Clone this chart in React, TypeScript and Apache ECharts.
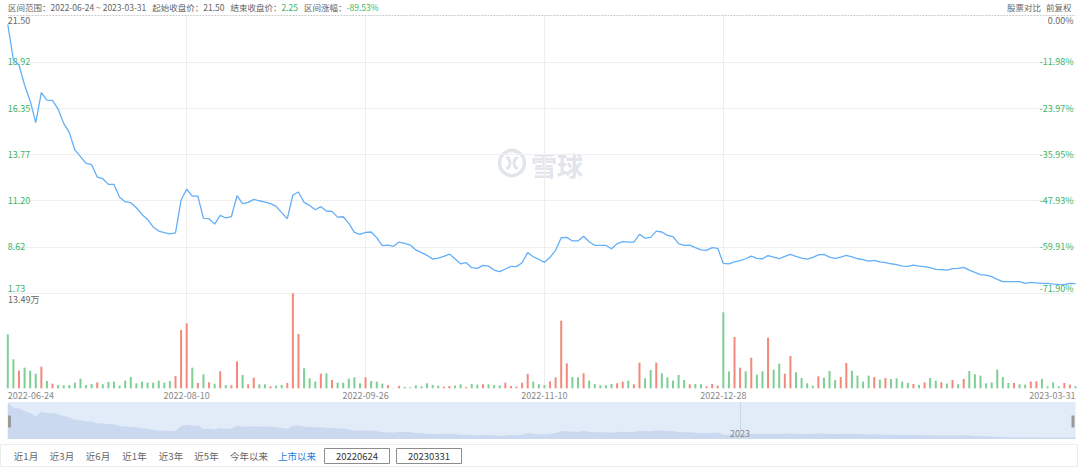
import React, { useEffect, useRef } from "react";
import * as echarts from "echarts";

// ---------- data ----------
const closePrices = [
  21.01, 19.02, 18.74, 17.63, 16.74, 15.53, 17.2, 16.79, 16.77, 16.29,
  15.49, 14.99, 14.01, 13.64, 13.26, 13.19, 12.5, 12.41, 12.09, 12.09,
  11.37, 11.13, 11.07, 10.79, 10.42, 10.14, 9.72, 9.49, 9.4, 9.33,
  9.39, 11.22, 11.82, 11.44, 11.44, 10.2, 10.18, 9.88, 10.37, 10.22,
  10.29, 11.46, 11.02, 11.09, 11.26, 11.18, 11.11, 11.02, 10.87, 10.52,
  10.18, 11.5, 11.67, 11.09, 10.92, 10.68, 10.85, 10.61, 10.59, 10.27,
  10.29, 9.92, 9.42, 9.31, 9.42, 9.44, 9.12, 8.68, 8.71, 8.64,
  8.88, 8.81, 8.71, 8.44, 8.29, 8.14, 7.93, 7.99, 8.08, 8.21,
  7.95, 7.67, 7.73, 7.45, 7.41, 7.58, 7.54, 7.32, 7.23, 7.38,
  7.53, 7.51, 7.73, 8.29, 8.06, 7.91, 7.75, 8.03, 8.42, 9.12,
  9.14, 8.94, 8.94, 9.2, 8.9, 8.7, 8.7, 8.7, 8.51, 8.79,
  8.9, 8.88, 8.88, 9.31, 9.1, 9.14, 9.49, 9.44, 9.25, 9.18,
  8.79, 8.7, 8.71, 8.57, 8.44, 8.42, 8.57, 8.53, 7.69, 7.66,
  7.77, 7.84, 7.95, 8.1, 7.97, 7.95, 8.12, 8.04, 7.95, 8.08,
  8.19, 8.08, 7.99, 7.93, 8.03, 8.17, 8.19, 8.04, 7.97, 8.04,
  8.14, 8.06, 7.95, 7.9, 7.82, 7.86, 7.77, 7.73, 7.67, 7.62,
  7.54, 7.53, 7.6, 7.54, 7.51, 7.45, 7.36, 7.34, 7.32, 7.4,
  7.41, 7.47, 7.32, 7.19, 7.06, 7.04, 6.95, 6.8, 6.67, 6.67,
  6.67, 6.67, 6.58, 6.63, 6.6, 6.58, 6.58, 6.54, 6.52, 6.51,
  6.58, 6.56,
];

// volume in 万
const volumes = [
  7.67, 4.12, 2.51, 2.93, 2.51, 2.08, 3.08, 1.04, 0.66, 0.47,
  0.43, 0.47, 0.8, 1.37, 0.47, 0.62, 0.85, 0.57, 0.9, 0.95,
  0.38, 1.09, 1.61, 0.71, 0.95, 0.8, 0.8, 1.09, 0.8, 1.04,
  1.75, 8.28, 9.23, 2.93, 0.76, 1.99, 0.85, 0.66, 2.41, 0.47,
  0.43, 3.83, 1.89, 0.57, 1.51, 0.57, 0.57, 0.28, 0.38, 0.47,
  0.76, 13.49, 7.71, 2.84, 1.42, 0.95, 2.08, 2.13, 1.18, 0.8,
  0.8, 1.37, 1.56, 0.71, 1.56, 1.04, 0.95, 0.66, 0.47, 0.05,
  0.33, 0.19, 0.14, 0.43, 0.28, 0.71, 0.47, 0.38, 0.24, 0.33,
  0.38, 0.57, 0.19, 0.62, 0.52, 0.57, 0.57, 0.47, 0.43, 0.8,
  0.33, 0.24, 0.8, 2.04, 0.95, 0.57, 0.47, 0.99, 1.56, 9.61,
  3.55, 1.61, 1.56, 2.13, 1.09, 0.62, 0.43, 0.43, 0.62, 0.71,
  0.95, 1.09, 0.57, 3.64, 1.42, 2.6, 3.64, 2.13, 1.56, 1.09,
  1.89, 1.18, 0.57, 0.62, 0.57, 0.28, 0.62, 0.38, 10.79, 2.41,
  7.29, 2.93, 2.41, 4.35, 1.94, 2.41, 7.19, 2.65, 3.5, 2.08,
  4.59, 2.27, 1.47, 0.71, 0.38, 1.7, 1.51, 2.46, 1.18, 1.61,
  3.6, 2.51, 1.8, 0.95, 1.8, 1.61, 1.23, 1.47, 1.33, 1.42,
  0.95, 0.76, 0.62, 0.47, 0.85, 1.47, 1.09, 0.85, 0.66, 1.18,
  0.57, 1.33, 2.46, 1.99, 1.8, 0.71, 0.85, 2.65, 1.61, 0.76,
  0.76, 0.57, 0.52, 0.95, 0.99, 1.33, 0.28, 0.85, 0.28, 0.76,
  0.52, 0.3,
];

// 1 = up day (red), 0 = down day (green)
const volumeUp = [
  0, 0, 1, 0, 0, 0, 1, 0, 1, 0,
  0, 0, 0, 0, 0, 0, 1, 0, 0, 0,
  0, 0, 0, 0, 0, 0, 0, 0, 0, 0,
  1, 1, 1, 0, 1, 0, 1, 0, 1, 0,
  1, 1, 0, 1, 1, 0, 0, 1, 0, 0,
  1, 1, 1, 0, 0, 0, 1, 0, 1, 0,
  0, 0, 0, 0, 1, 0, 0, 0, 1, 0,
  1, 0, 0, 0, 0, 0, 0, 0, 1, 1,
  0, 0, 1, 0, 0, 1, 0, 0, 0, 1,
  1, 1, 1, 1, 0, 0, 0, 1, 1, 1,
  1, 0, 0, 1, 0, 0, 0, 0, 0, 1,
  1, 0, 1, 1, 0, 0, 1, 0, 0, 0,
  0, 0, 1, 0, 0, 1, 1, 1, 0, 0,
  1, 1, 0, 1, 0, 0, 1, 0, 0, 1,
  1, 0, 0, 0, 0, 1, 0, 0, 0, 1,
  1, 0, 0, 0, 0, 1, 0, 1, 0, 0,
  0, 0, 1, 0, 1, 0, 0, 1, 0, 1,
  0, 1, 0, 0, 0, 0, 0, 0, 0, 0,
  1, 0, 0, 1, 1, 0, 0, 0, 0, 1,
  1, 0,
];

const dateTickIndex = [0, 32, 64, 96, 128, 191];
const dateTickLabels = ["2022-06-24", "2022-08-10", "2022-09-26", "2022-11-10", "2022-12-28", "2023-03-31"];

// tick labels, bottom to top
const priceTickLabels = ["1.73", "8.62", "11.20", "13.77", "16.35", "18.92", "21.50"];
const pctTickLabels = ["-71.90%", "-59.91%", "-47.93%", "-35.95%", "-23.97%", "-11.98%", "0.00%"];
const priceAxisMin = 6.0415;
const priceAxisMax = 21.5;

const volumeMax = 13.49;
const volumeMaxLabel = "13.49万";

const sliderYearIndex = 131;
const sliderYearLabel = "2023";
const sliderMin = 5.9;
const sliderMax = 21.4;

const headerLabels = ["区间范围：", "起始收盘价：", "结束收盘价：", "区间涨幅："];
const headerValues = ["2022-06-24 ~ 2023-03-31", "21.50", "2.25", "-89.53%"];
const headerValueGreen = [false, false, true, true];
const headerRight = ["股票对比", "前复权"];

const rangeButtons = ["近1月", "近3月", "近6月", "近1年", "近3年", "近5年", "今年以来", "上市以来"];
const rangeInputs = ["20220624", "20230331"];

// ---------- style ----------
const FONT = "'Noto Sans CJK SC', 'Noto Sans', sans-serif";
const GREEN = "#3cb464";
const GRAY = "#666";
const LIGHT = "#888";
const UP = "#f2897b";
const DOWN = "#7fce95";

const GRID_L = 7.8;
const GRID_R = 4.5;

export default function App() {
  const ref = useRef<HTMLDivElement>(null);

  useEffect(() => {
    if (!ref.current) return;
    const chart = echarts.init(ref.current, undefined, { renderer: "svg" });

    const categories = closePrices.map((_, i) => {
      const k = dateTickIndex.indexOf(i);
      return k >= 0 ? dateTickLabels[k] : "d" + i;
    });
    const splitIdx = (i: number) => i > 0 && i <= 128 && i % 32 === 0;

    const headerText = headerLabels
      .map((lab, k) => `{l|${lab}}{${headerValueGreen[k] ? "g" : "v"}|${headerValues[k]}}`)
      .join("{s| }");
    const hs = { fontSize: 8.5, fontFamily: FONT, lineHeight: 12 };

    const btnX = [26, 62, 98, 134.5, 171, 206.5, 249, 297];
    const buttonGraphics = rangeButtons.map((b, k) => ({
      type: "text",
      x: btnX[k],
      y: 456,
      style: {
        text: b,
        fill: k === rangeButtons.length - 1 ? "#1a7fe0" : GRAY,
        fontSize: 9.5,
        fontFamily: FONT,
        align: "center",
        verticalAlign: "middle",
      },
    }));
    const boxX = [324, 396];
    const inputGraphics = rangeInputs.flatMap((t, k) => [
      {
        type: "rect",
        shape: { x: boxX[k] + 0.5, y: 448.5, width: 65, height: 15 },
        style: { fill: "#fff", stroke: "#8c8c8c", lineWidth: 1 },
      },
      {
        type: "text",
        x: boxX[k] + 33,
        y: 456,
        style: { text: t, fill: "#333", fontSize: 9.5, fontFamily: FONT, align: "center", verticalAlign: "middle" },
      },
    ]);

    const yLabelBase = {
      inside: true,
      fontSize: 9,
      lineHeight: 10,
      fontFamily: FONT,
      color: (v: any) => (Math.round(Number(v)) === 6 ? GRAY : GREEN),
      verticalAlignMinLabel: "bottom",
      verticalAlignMaxLabel: "top",
    };

    const option: any = {
      animation: false,
      backgroundColor: "#fff",
      grid: [
        { left: GRID_L, right: GRID_R, top: 15.5, height: 277.5 },
        { left: GRID_L, right: GRID_R, top: 293.3, height: 95 },
        {
          left: GRID_L,
          right: GRID_R,
          top: 402,
          height: 37,
          show: true,
          backgroundColor: "#e2ecf8",
          borderWidth: 0,
        },
      ],
      xAxis: [
        {
          type: "category",
          gridIndex: 0,
          data: categories,
          boundaryGap: false,
          axisLine: { show: false },
          axisTick: { show: false },
          axisLabel: { show: false },
          splitLine: { show: true, interval: splitIdx, lineStyle: { color: "#eeeeee", width: 1 } },
        },
        {
          type: "category",
          gridIndex: 1,
          data: categories,
          boundaryGap: false,
          axisLine: { show: false },
          axisTick: { show: false },
          axisLabel: {
            show: true,
            interval: (i: number) => dateTickIndex.indexOf(i) >= 0,
            color: LIGHT,
            fontSize: 9,
            fontFamily: FONT,
            margin: 3,
            alignMinLabel: "left",
            alignMaxLabel: "right",
          },
          splitLine: { show: true, interval: splitIdx, lineStyle: { color: "#eeeeee", width: 1 } },
        },
        {
          type: "category",
          gridIndex: 2,
          data: categories,
          boundaryGap: false,
          z: 10,
          axisLine: { show: false },
          axisTick: { show: false },
          axisLabel: {
            show: true,
            inside: true,
            interval: (i: number) => i === sliderYearIndex,
            formatter: () => sliderYearLabel,
            color: LIGHT,
            fontSize: 9,
            fontFamily: FONT,
            margin: 1,
          },
          splitLine: {
            show: true,
            interval: (i: number) => i === sliderYearIndex,
            lineStyle: { color: "#cdd8e6", width: 1 },
          },
        },
      ],
      yAxis: [
        {
          type: "value",
          gridIndex: 0,
          position: "left",
          min: 0,
          max: 6,
          interval: 1,
          axisLine: { show: false },
          axisTick: { show: false },
          axisLabel: {
            ...yLabelBase,
            margin: 0,
            formatter: (v: number) => priceTickLabels[Math.round(v)],
          },
          splitLine: { show: true, lineStyle: { color: "#efefef", width: 1 } },
        },
        {
          type: "value",
          gridIndex: 0,
          position: "right",
          min: 0,
          max: 6,
          interval: 1,
          axisLine: { show: false },
          axisTick: { show: false },
          axisLabel: {
            ...yLabelBase,
            margin: 2,
            formatter: (v: number) => pctTickLabels[Math.round(v)],
          },
          splitLine: { show: false },
        },
        { type: "value", gridIndex: 0, min: priceAxisMin, max: priceAxisMax, show: false, splitLine: { show: false } },
        { type: "value", gridIndex: 1, min: 0, max: volumeMax, show: false, splitLine: { show: false } },
        { type: "value", gridIndex: 2, min: sliderMin, max: sliderMax, show: false, splitLine: { show: false } },
      ],
      series: [
        {
          type: "line",
          xAxisIndex: 0,
          yAxisIndex: 2,
          data: closePrices,
          showSymbol: false,
          symbol: "none",
          lineStyle: { color: "#63aff8", width: 1.3 },
          z: 5,
        },
        {
          type: "bar",
          xAxisIndex: 1,
          yAxisIndex: 3,
          barWidth: 2,
          data: volumes.map((v, i) => ({ value: v, itemStyle: { color: volumeUp[i] ? UP : DOWN } })),
        },
        {
          type: "line",
          xAxisIndex: 2,
          yAxisIndex: 4,
          data: closePrices,
          showSymbol: false,
          symbol: "none",
          lineStyle: { width: 0, opacity: 0 },
          areaStyle: { color: "#cad9f0", opacity: 1 },
          z: 1,
        },
      ],
      graphic: [
        // top dotted line
        {
          type: "line",
          shape: { x1: GRID_L, y1: 15.5, x2: 1075.5, y2: 15.5 },
          style: { stroke: "#bdbdbd", lineWidth: 1, lineDash: [1, 2] },
          z: 10,
        },
        // volume max label
        {
          type: "text",
          x: 8,
          y: 294.5,
          style: { text: volumeMaxLabel, fill: GRAY, fontSize: 9, fontFamily: FONT, verticalAlign: "top", lineHeight: 9 },
        },
        // header
        {
          type: "text",
          x: 8,
          y: 7,
          style: {
            text: headerText,
            verticalAlign: "middle",
            rich: {
              l: { ...hs, fill: GRAY },
              v: { ...hs, fill: GRAY },
              g: { ...hs, fill: GREEN },
              s: { ...hs, fill: GRAY, width: 6 },
            },
          },
        },
        {
          type: "text",
          x: 1007,
          y: 7,
          style: { text: headerRight[0], fill: GRAY, fontSize: 8.5, fontFamily: FONT, verticalAlign: "middle" },
        },
        {
          type: "text",
          x: 1046,
          y: 7,
          style: { text: headerRight[1], fill: GRAY, fontSize: 8.5, fontFamily: FONT, verticalAlign: "middle" },
        },
        // watermark
        {
          type: "group",
          silent: true,
          z: 0,
          children: [
            {
              type: "circle",
              shape: { cx: 512, cy: 163, r: 12.5 },
              style: { fill: "none", stroke: "#e2e5ec", lineWidth: 3.5 },
            },
            {
              type: "arc",
              shape: { cx: 503, cy: 163, r: 7, startAngle: -Math.PI / 3, endAngle: Math.PI / 3 },
              style: { fill: "none", stroke: "#e2e5ec", lineWidth: 3 },
            },
            {
              type: "arc",
              shape: { cx: 521, cy: 163, r: 7, startAngle: (2 * Math.PI) / 3, endAngle: (4 * Math.PI) / 3 },
              style: { fill: "none", stroke: "#e2e5ec", lineWidth: 3 },
            },
            {
              type: "text",
              x: 531,
              y: 164,
              style: {
                text: "雪球",
                fill: "#e2e5ec",
                fontSize: 26,
                fontWeight: "bold",
                fontFamily: FONT,
                verticalAlign: "middle",
              },
            },
          ],
        },
        // slider handles
        { type: "rect", shape: { x: 8, y: 415.5, width: 3, height: 12 }, style: { fill: "#9a9a9a" }, z: 10 },
        { type: "rect", shape: { x: 1071.5, y: 415.5, width: 3, height: 12 }, style: { fill: "#9a9a9a" }, z: 10 },
        // bottom row
        {
          type: "rect",
          shape: { x: 0.5, y: 444.5, width: 1077, height: 22 },
          style: { fill: "#fff", stroke: "#ececec", lineWidth: 1 },
        },
        ...buttonGraphics,
        ...inputGraphics,
      ],
    };

    chart.setOption(option);
    return () => chart.dispose();
  }, []);

  return (
    <div
      ref={ref}
      style={{ position: "absolute", left: 0, top: 0, width: 1080, height: 467, background: "#fff" }}
    />
  );
}
